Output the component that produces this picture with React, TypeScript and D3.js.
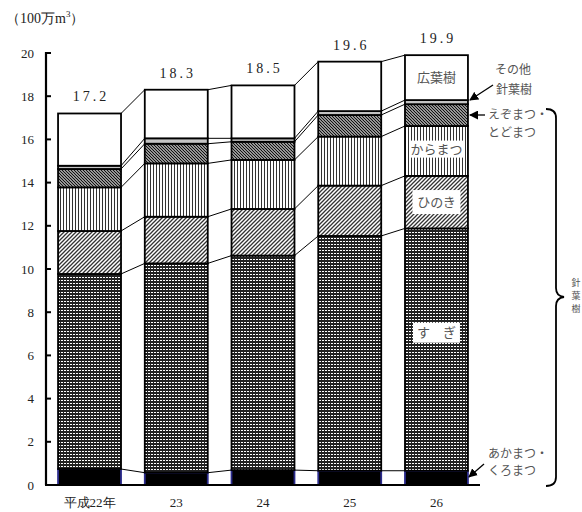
import React from "react";
import * as d3 from "d3";

// Fiscal years (Heisei era) and supply volume by species, in million m³
const years = ["平成22年", "23", "24", "25", "26"];
const totals = [17.2, 18.3, 18.5, 19.6, 19.9];
const akamatsu = [0.74, 0.57, 0.69, 0.66, 0.66]; // あかまつ・くろまつ
const sugi = [9.03, 9.69, 9.93, 10.87, 11.22]; // すぎ
const hinoki = [1.99, 2.16, 2.16, 2.33, 2.43]; // ひのき
const karamatsu = [2.02, 2.47, 2.27, 2.27, 2.31]; // からまつ
const ezomatsu = [0.85, 0.91, 0.84, 1.0, 1.01]; // えぞまつ・とどまつ
const sonota = [0.15, 0.25, 0.16, 0.18, 0.19]; // その他針葉樹
const yTicks = [0, 2, 4, 6, 8, 10, 12, 14, 16, 18, 20];

// broadleaf = total minus all conifer species
const koyoju = totals.map(
  (t, i) =>
    t - akamatsu[i] - sugi[i] - hinoki[i] - karamatsu[i] - ezomatsu[i] - sonota[i]
);

const seriesDefs = [
  { key: "akamatsu", values: akamatsu, fill: "#000", stroke: "#2b2b8c" },
  { key: "sugi", values: sugi, fill: "url(#p-sugi)", stroke: "#000" },
  { key: "hinoki", values: hinoki, fill: "url(#p-hinoki)", stroke: "#000" },
  { key: "karamatsu", values: karamatsu, fill: "url(#p-kara)", stroke: "#000" },
  { key: "ezomatsu", values: ezomatsu, fill: "url(#p-ezo)", stroke: "#000" },
  { key: "sonota", values: sonota, fill: "#c4c4c4", stroke: "#000" },
  { key: "koyoju", values: koyoju, fill: "#fff", stroke: "#000" },
];

const SERIF = "'Liberation Serif', 'DejaVu Serif', serif";
const JP = "'Noto Sans CJK JP', sans-serif";

export default function App() {
  const W = 582;
  const H = 512;
  const x = d3
    .scaleBand<string>()
    .domain(years)
    .range([46, 480])
    .paddingInner(0.274)
    .paddingOuter(0.139);
  const y = d3.scaleLinear().domain([0, 20]).range([485, 53]);
  const bw = x.bandwidth();

  const rows = years.map((yr, i) => {
    const r: any = { year: yr };
    seriesDefs.forEach((s) => (r[s.key] = s.values[i]));
    return r;
  });
  const stacked = d3.stack<any>().keys(seriesDefs.map((s) => s.key))(rows);

  const last = years[years.length - 1];
  const lx = (x(last) as number) + bw / 2;
  const rightEdge = (x(last) as number) + bw;

  const innerLabels = [
    { text: "広葉樹", v: 18.85, box: null as null | [number, number] },
    { text: "からまつ", v: 15.55, box: [54, 17] as [number, number] },
    { text: "ひのき", v: 13.1, box: [48, 24] as [number, number] },
    { text: "す　ぎ", v: 7.05, box: [47, 20] as [number, number] },
  ];

  const bracePath = d3.path();
  bracePath.moveTo(546, 109);
  bracePath.quadraticCurveTo(556, 109, 556, 118);
  bracePath.lineTo(556, 288);
  bracePath.quadraticCurveTo(556, 296, 564, 297);
  bracePath.quadraticCurveTo(556, 298, 556, 306);
  bracePath.lineTo(556, 477);
  bracePath.quadraticCurveTo(556, 486, 546, 486);

  return (
    <svg
      width={W}
      height={H}
      style={{ position: "absolute", left: 0, top: 0, display: "block", background: "#fff" }}
    >
      <defs>
        <pattern id="p-sugi" width={3} height={3} patternUnits="userSpaceOnUse">
          <rect width={3} height={3} fill="#222" />
          <rect x={1} y={1} width={2} height={1} fill="#fff" />
        </pattern>
        <pattern id="p-hinoki" width={4} height={4} patternUnits="userSpaceOnUse">
          <rect width={4} height={4} fill="#fff" />
          <path d="M0,4 L4,0 M-1,1 L1,-1 M3,5 L5,3" stroke="#333" strokeWidth={1.3} />
        </pattern>
        <pattern id="p-kara" width={3} height={3} patternUnits="userSpaceOnUse">
          <rect width={3} height={3} fill="#fff" />
          <rect width={1} height={3} fill="#333" />
        </pattern>
        <pattern id="p-ezo" width={3} height={3} patternUnits="userSpaceOnUse">
          <rect width={3} height={3} fill="#fff" />
          <path d="M0,0 L3,3 M-1,2 L1,4 M2,-1 L4,1" stroke="#111" strokeWidth={1.3} />
        </pattern>
        <marker
          id="arrow"
          viewBox="0 0 10 10"
          refX={9}
          refY={5}
          markerWidth={9}
          markerHeight={9}
          markerUnits="userSpaceOnUse"
          orient="auto"
        >
          <path d="M0,0 L10,5 L0,10 Z" fill="#000" />
        </marker>
      </defs>

      {/* unit label */}
      <text x={6} y={23} fontFamily={SERIF} fontSize={14} fill="#222">
        （100万m<tspan dy={-6} fontSize={9}>3</tspan>
        <tspan dy={6}>）</tspan>
      </text>

      {/* connector lines between adjacent bars */}
      <g stroke="#000" strokeWidth={1}>
        {stacked.map((layer) =>
          layer.slice(0, -1).map((d, i) => (
            <line
              key={`${layer.key}-${i}`}
              x1={(x(years[i]) as number) + bw}
              y1={y(d[1])}
              x2={x(years[i + 1]) as number}
              y2={y(layer[i + 1][1])}
            />
          ))
        )}
      </g>

      {/* stacked bars */}
      {stacked.map((layer, li) => (
        <g key={layer.key}>
          {layer.map((d, i) => (
            <rect
              key={i}
              x={x(years[i]) as number}
              y={y(d[1])}
              width={bw}
              height={y(d[0]) - y(d[1])}
              fill={seriesDefs[li].fill}
              stroke={seriesDefs[li].stroke}
              strokeWidth={1.8}
            />
          ))}
        </g>
      ))}

      {/* axes */}
      <line x1={46} y1={y(20) - 1} x2={46} y2={y(0)} stroke="#000" strokeWidth={2.2} />
      <line x1={45} y1={y(0)} x2={480} y2={y(0)} stroke="#000" strokeWidth={2} />
      {yTicks.map((t) => (
        <g key={t}>
          <line x1={46} y1={y(t)} x2={51} y2={y(t)} stroke="#000" strokeWidth={2} />
          <text
            x={34}
            y={y(t) + 4.5}
            textAnchor="end"
            fontFamily={SERIF}
            fontSize={13}
            fill="#222"
          >
            {t}
          </text>
        </g>
      ))}
      {years.map((yr) => (
        <text
          key={yr}
          x={(x(yr) as number) + bw / 2}
          y={507}
          textAnchor="middle"
          fontFamily={SERIF}
          fontSize={13}
          fill="#222"
        >
          {yr}
        </text>
      ))}

      {/* totals above bars */}
      {years.map((yr, i) => (
        <text
          key={yr}
          x={(x(yr) as number) + bw / 2 + 1.5}
          y={y(totals[i]) - 12}
          textAnchor="middle"
          fontFamily={SERIF}
          fontSize={14}
          letterSpacing={3}
          fill="#222"
        >
          {totals[i].toFixed(1)}
        </text>
      ))}

      {/* species labels inside the last bar */}
      {innerLabels.map((l) => (
        <g key={l.text}>
          {l.box && (
            <rect
              x={lx - l.box[0] / 2}
              y={y(l.v) - l.box[1] / 2}
              width={l.box[0]}
              height={l.box[1]}
              fill="#fff"
            />
          )}
          <text
            x={lx}
            y={y(l.v) + 4.5}
            textAnchor="middle"
            fontFamily={JP}
            fontSize={13}
            fill="#555"
          >
            {l.text}
          </text>
        </g>
      ))}

      {/* callouts on the right */}
      <g fontFamily={JP} fontSize={12} fill="#555">
        <text x={495} y={74}>その他</text>
        <text x={496} y={94}>針葉樹</text>
        <text x={488} y={119}>えぞまつ・</text>
        <text x={488} y={137}>とどまつ</text>
        <text x={488} y={458}>あかまつ・</text>
        <text x={488} y={475}>くろまつ</text>
      </g>
      <g stroke="#000" strokeWidth={1.3}>
        <line x1={493} y1={85} x2={rightEdge + 2} y2={100} markerEnd="url(#arrow)" />
        <line x1={485} y1={115} x2={rightEdge + 2} y2={115} markerEnd="url(#arrow)" />
        <line x1={484} y1={464} x2={rightEdge + 1} y2={477} markerEnd="url(#arrow)" />
      </g>

      {/* brace grouping the conifer species */}
      <path d={bracePath.toString()} fill="none" stroke="#000" strokeWidth={1.8} />
      <g fontFamily={JP} fontSize={9} fill="#555" textAnchor="middle">
        <text x={576} y={286}>針</text>
        <text x={576} y={299}>葉</text>
        <text x={576} y={312}>樹</text>
      </g>
    </svg>
  );
}
